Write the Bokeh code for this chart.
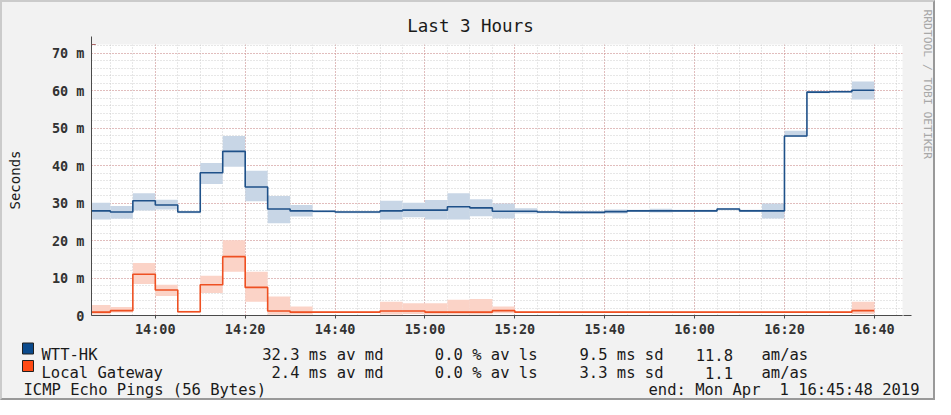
import math
import pandas as pd
from bokeh.plotting import figure
from bokeh.layouts import row, column
from bokeh.models import (FixedTicker, DatetimeTickFormatter, Arrow,
                          NormalHead, Range1d)
from bokeh.core.properties import value
from bokeh.embed import file_html
from bokeh.resources import INLINE

DAY = "2019-04-01"
RANGE_START = "13:45:48"
RANGE_END = "16:46:16"

bin_starts = ["13:45", "13:50", "13:55", "14:00", "14:05", "14:10", "14:15",
              "14:20", "14:25", "14:30", "14:35", "14:40", "14:45", "14:50",
              "14:55", "15:00", "15:05", "15:10", "15:15", "15:20", "15:25",
              "15:30", "15:35", "15:40", "15:45", "15:50", "15:55", "16:00",
              "16:05", "16:10", "16:15", "16:20", "16:25", "16:30", "16:35"]
last_bin_end = "16:40"

# WTT-HK (ms)
wtt_median = [27.9, 27.6, 30.6, 29.5, 27.6, 38.1, 43.8, 34.3, 28.4, 27.9,
              27.8, 27.6, 27.6, 27.9, 28.1, 28.1, 29.0, 28.7, 27.8, 27.8,
              27.6, 27.5, 27.5, 27.7, 27.9, 27.9, 27.9, 27.9, 28.4, 27.9,
              27.9, 47.9, 59.6, 59.7, 60.1]
wtt_low = [25.6, 25.8, 28.0, 28.3, 27.3, 35.1, 39.7, 30.5, 24.6, 26.4,
           27.5, 27.3, 27.3, 25.6, 26.2, 25.6, 25.6, 26.5, 25.9, 27.2,
           27.3, 27.2, 27.2, 27.2, 27.6, 27.5, 27.6, 27.6, 28.1, 27.6,
           25.9, 47.6, 59.3, 59.4, 57.6]
wtt_high = [30.1, 29.2, 32.6, 30.9, 27.9, 40.7, 47.9, 38.6, 31.9, 29.5,
            28.1, 27.9, 27.9, 30.6, 30.1, 30.8, 32.6, 31.0, 29.9, 28.6,
            27.9, 27.8, 27.8, 28.3, 28.2, 28.5, 28.2, 28.2, 28.7, 28.2,
            29.9, 49.3, 59.9, 60.0, 62.4]

# Local Gateway (ms)
gw_median = [0.9, 1.3, 11.0, 6.8, 1.0, 8.2, 15.7, 7.5, 1.2, 0.9,
             0.9, 0.9, 0.9, 1.2, 1.2, 0.9, 0.9, 0.9, 1.3, 0.9,
             0.9, 0.9, 0.9, 0.9, 0.9, 0.9, 0.9, 0.9, 0.9, 0.9,
             0.9, 0.9, 0.9, 0.9, 1.3]
gw_low = [0.3, 0.8, 8.4, 5.2, 0.7, 6.0, 11.7, 3.7, 0.2, 0.3,
          0.7, 0.7, 0.7, 0.3, 0.4, 0.3, 0.3, 0.3, 0.6, 0.7,
          0.7, 0.7, 0.7, 0.7, 0.7, 0.7, 0.7, 0.7, 0.7, 0.7,
          0.7, 0.7, 0.7, 0.7, 0.4]
gw_high = [2.8, 2.3, 14.0, 8.2, 1.3, 10.6, 20.1, 11.7, 5.1, 2.4,
           1.1, 1.1, 1.1, 3.7, 3.3, 3.3, 4.2, 4.4, 2.4, 1.1,
           1.1, 1.1, 1.1, 1.1, 1.1, 1.1, 1.1, 1.1, 1.1, 1.1,
           1.1, 1.1, 1.1, 1.1, 3.7]

x_major_ticks = ["14:00", "14:20", "14:40", "15:00", "15:20", "15:40",
                 "16:00", "16:20", "16:40"]
x_minor_ticks = ["13:45", "13:50", "13:55", "14:00", "14:05", "14:10", "14:15",
                 "14:20", "14:25", "14:30", "14:35", "14:40", "14:45", "14:50",
                 "14:55", "15:00", "15:05", "15:10", "15:15", "15:20", "15:25",
                 "15:30", "15:35", "15:40", "15:45", "15:50", "15:55", "16:00",
                 "16:05", "16:10", "16:15", "16:20", "16:25", "16:30", "16:35",
                 "16:40", "16:45"]
y_major_ticks = [0, 10, 20, 30, 40, 50, 60, 70]
y_tick_labels = ["0", "10 m", "20 m", "30 m", "40 m", "50 m", "60 m", "70 m"]
y_minor_ticks = [0, 2, 4, 6, 8, 10, 12, 14, 16, 18, 20, 22, 24, 26, 28, 30,
                 32, 34, 36, 38, 40, 42, 44, 46, 48, 50, 52, 54, 56, 58, 60,
                 62, 64, 66, 68, 70, 72]

series_names = ["WTT-HK", "Local Gateway"]
series_colors = ["#0b4a8c", "#ff4a14"]
stat_avg = ["32.3 ms av md", "2.4 ms av md"]
stat_loss = ["0.0 % av ls", "0.0 % av ls"]
stat_sd = ["9.5 ms sd", "3.3 ms sd"]
stat_amas = ["11.8", "1.1"]
unit_amas = ["am/as", "am/as"]
footer_left = "ICMP Echo Pings (56 Bytes)"
footer_right_a = "end: Mon Apr"
footer_right_b = "1 16:45:48 2019"
title_text = "Last 3 Hours"
side_text = "RRDTOOL / TOBI OETIKER"
y_label = "Seconds"


def ts(hm):
    return pd.Timestamp(f"{DAY} {hm}").value / 1e6


x_starts = [ts(s) for s in bin_starts]
x_ends = x_starts[1:] + [ts(last_bin_end)]
step_x = x_starts + [ts(last_bin_end)]

MONO = "DejaVu Sans Mono"
BG = "#f2f2f2"
INK = "#1a1a1a"

# ---- sizes ----
SIDE_W = 12
W1 = 919
HDR_H = 32
ML, FW = 89, 811
MR = W1 - ML - FW
MT, FH, MB = 10, 271, 23
LEG_H = 395 - HDR_H - (MT + FH + MB)
Y0, Y1 = 0, 72.3
X0, X1 = ts(RANGE_START), ts(RANGE_END)
PX_PER_MS_X = FW / (X1 - X0)
PX_PER_Y = FH / (Y1 - Y0)


def no_align(f):
    try:
        f.frame_align = False
    except Exception:
        pass


def deco_fig(w, h):
    f = figure(width=w, height=h, x_range=Range1d(0, w), y_range=Range1d(h, 0),
               x_axis_location=None, y_axis_location=None,
               toolbar_location=None, output_backend="svg",
               min_border=0, min_border_left=0, min_border_right=0,
               min_border_top=0, min_border_bottom=0)
    f.background_fill_color = BG
    f.border_fill_color = BG
    f.outline_line_color = None
    f.xgrid.visible = False
    f.ygrid.visible = False
    no_align(f)
    return f


# ---- header (title) ----
hdr = deco_fig(W1, HDR_H)
hdr.text(x=[468], y=[23], text=[title_text], text_align="center",
         text_baseline="alphabetic", text_font=value(MONO),
         text_font_size=value("17.5px"), text_color=INK)

# ---- main chart ----
p = figure(x_axis_type="datetime", frame_width=FW, frame_height=FH,
           min_border_left=ML, min_border_right=MR, min_border_top=MT,
           min_border_bottom=MB, toolbar_location=None, output_backend="svg",
           x_range=Range1d(X0, X1), y_range=Range1d(Y0, Y1))
no_align(p)
p.background_fill_color = "white"
p.border_fill_color = BG
p.outline_line_color = None

xt = FixedTicker(ticks=[ts(t) for t in x_major_ticks],
                 minor_ticks=[ts(t) for t in x_minor_ticks])
p.xaxis.ticker = xt
p.xgrid.ticker = xt
fmt = "%H:%M"
p.xaxis.formatter = DatetimeTickFormatter(
    milliseconds=fmt, seconds=fmt, minsec=fmt, minutes=fmt, hourmin=fmt,
    hours=fmt, days=fmt, months=fmt, years=fmt)
yt = FixedTicker(ticks=y_major_ticks, minor_ticks=y_minor_ticks)
p.yaxis.ticker = yt
p.ygrid.ticker = yt
p.yaxis.major_label_overrides = {t: l for t, l in zip(y_major_ticks, y_tick_labels)}

for g in (p.xgrid, p.ygrid):
    g.grid_line_color = "#d98080"
    g.grid_line_alpha = 0.8
    g.grid_line_dash = "1 2"
    g.minor_grid_line_color = "#c4c4c4"
    g.minor_grid_line_alpha = 0.8
    g.minor_grid_line_dash = "1 2"

for ax in (p.xaxis, p.yaxis):
    ax.axis_line_color = "#4a4a4a"
    ax.major_tick_line_color = "#4a4a4a"
    ax.minor_tick_out = 0
    ax.minor_tick_in = 0
    ax.major_tick_in = 0
    ax.major_label_text_font = MONO
    ax.major_label_text_font_size = "13.5px"
    ax.major_label_text_font_style = "bold"
    ax.major_label_text_color = "#333333"
p.xaxis.major_tick_out = 3
p.xaxis.major_label_standoff = 2
p.yaxis.major_tick_out = 0
p.yaxis.major_label_standoff = 7
p.yaxis.axis_label = y_label
p.yaxis.axis_label_text_font = MONO
p.yaxis.axis_label_text_font_size = "14px"
p.yaxis.axis_label_text_font_style = "normal"
p.yaxis.axis_label_text_color = INK
p.yaxis.axis_label_standoff = 26

p.quad(left=x_starts, right=x_ends, bottom=wtt_low, top=wtt_high,
       fill_color="#c8d6e6", line_color=None)
p.quad(left=x_starts, right=x_ends, bottom=gw_low, top=gw_high,
       fill_color="#fbd3c7", line_color=None)
p.step(step_x, wtt_median + [wtt_median[-1]], mode="after",
       line_color="#1f5189", line_width=1.6)
p.step(step_x, gw_median + [gw_median[-1]], mode="after",
       line_color="#ee5022", line_width=1.6)

ARROW_RED = "#7f1010"
p.add_layout(Arrow(end=NormalHead(size=8, fill_color=ARROW_RED, line_color=ARROW_RED),
                   x_start=X0, y_start=Y0, x_end=X0, y_end=Y1 + 8 / PX_PER_Y,
                   line_color="#4a4a4a", line_width=1))
p.add_layout(Arrow(end=NormalHead(size=8, fill_color=ARROW_RED, line_color=ARROW_RED),
                   x_start=X0, y_start=Y0, x_end=X1 + 9 / PX_PER_MS_X, y_end=Y0,
                   line_color="#4a4a4a", line_width=1))

# ---- legend / footer ----
leg = deco_fig(W1, LEG_H)
LF = value("15.5px")
baselines = [15.5, 33, 50]
leg.quad(left=[20, 20], right=[31, 31],
         top=[baselines[0] - 12, baselines[1] - 12],
         bottom=[baselines[0] - 1, baselines[1] - 1],
         fill_color=series_colors, line_color="#202020", line_width=1)

left_x, left_y, left_t = [], [], []
right_x, right_y, right_t = [], [], []
for i in range(2):
    b = baselines[i]
    left_x += [39, 759]
    left_y += [b, b]
    left_t += [series_names[i], unit_amas[i]]
    right_x += [381, 535, 661, 730.5]
    right_y += [b] * 4
    right_t += [stat_avg[i], stat_loss[i], stat_sd[i], stat_amas[i]]
left_x += [21, 646]
left_y += [baselines[2]] * 2
left_t += [footer_left, footer_right_a]
right_x += [917]
right_y += [baselines[2]]
right_t += [footer_right_b]

leg.text(x=left_x, y=left_y, text=left_t, text_align="left",
         text_baseline="alphabetic", text_font=value(MONO),
         text_font_size=LF, text_color=INK)
leg.text(x=right_x, y=right_y, text=right_t, text_align="right",
         text_baseline="alphabetic", text_font=value(MONO),
         text_font_size=LF, text_color=INK)

# ---- side credit ----
side = deco_fig(SIDE_W, 395)
side.text(x=[6], y=[7], text=[side_text], angle=-math.pi / 2,
          text_align="left", text_baseline="middle", text_font=value(MONO),
          text_font_size=value("11.3px"), text_color="#a8a8a8")

layout = row(column(hdr, p, leg), side)
layout.styles = {"border-top": "2px solid #cbcbcb", "border-left": "2px solid #cbcbcb",
                 "border-right": "2px solid #999999",
                 "border-bottom": "2px solid #999999",
                 "background-color": BG}

open("out.html", "w").write(file_html(layout, INLINE))
